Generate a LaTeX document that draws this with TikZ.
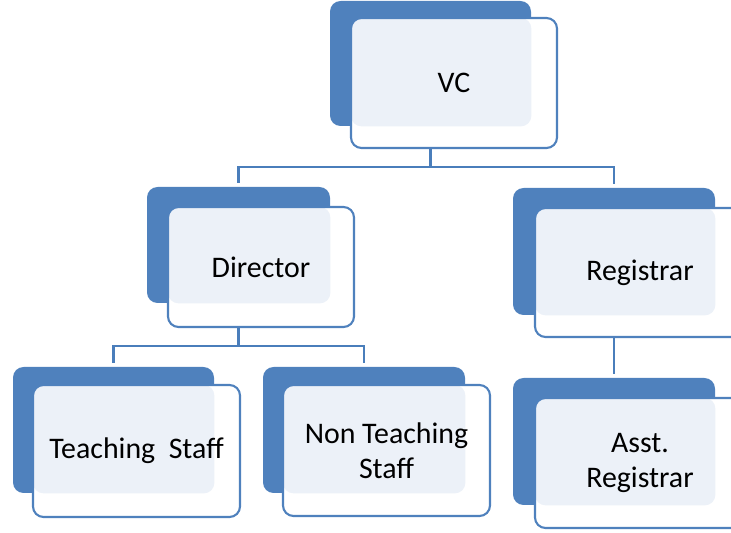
\documentclass[tikz,border=0pt]{standalone}
\usepackage{fontspec}
\setmainfont{Carlito}
\usetikzlibrary{fit}
\definecolor{boxblue}{HTML}{4F81BD}
\definecolor{paleblue}{HTML}{ECF1F8}
\definecolor{lineblue}{HTML}{4A7EBB}
\begin{document}
\begin{tikzpicture}[x=0.02cm, y=-0.02cm,
  back/.style={fill=boxblue, rounded corners=6pt, inner sep=0pt},
  front/.style={draw=boxblue, line width=1.2pt, fill=white, rounded corners=6pt, inner sep=0pt},
  paleover/.style={path picture={\fill[paleblue, rounded corners=6pt]
    (path picture bounding box.north west) rectangle (#1.south east);}},
  boxtext/.style={align=center, inner sep=0pt, font=\fontsize{17}{20}\selectfont},
  link/.style={draw=lineblue, line width=1.6pt, shorten >=2pt}]
\clip (0,0) rectangle (731,533);
% top
\node[back, fit={(330,1) (531,126)}] (vcB) {};
\node[front, paleover=vcB, fit={(351,18) (557,148)}] (vc) {};
\node[boxtext] (vcT) at (vc.center) {VC};
% second row
\node[back, fit={(147,187) (330,303)}] (dirB) {};
\node[front, paleover=dirB, fit={(168,207) (354,327)}] (dir) {};
\node[boxtext] (dirT) at (dir.center) {Director};
\node[back, fit={(513,188) (715,315)}] (regB) {};
\node[front, paleover=regB, fit={(535,208) (745,337)}] (reg) {};
\node[boxtext] (regT) at (reg.center) {Registrar};
% third row
\node[back, fit={(13,367) (214,493)}] (tsB) {};
\node[front, paleover=tsB, fit={(33,385) (240,517)}] (ts) {};
\node[boxtext] (tsT) at (ts.center) {Teaching~ Staff};
\node[back, fit={(263,367) (465,493)}] (ntsB) {};
\node[front, paleover=ntsB, fit={(283,385) (490,516)}] (nts) {};
\node[boxtext] (ntsT) at (nts.center) {Non Teaching\\Staff};
\node[back, fit={(513,378) (715,505)}] (arB) {};
\node[front, paleover=arB, fit={(535,398) (745,528)}] (ar) {};
\node[boxtext] (arT) at (ar.center) {Asst.\\Registrar};
% links
\path[link] (vcB.center |- vc.south) -- ++(0,18) -| (dirB.north);
\path[link] (vcB.center |- vc.south) -- ++(0,18) -| (regB.north);
\path[link] (dirB.center |- dir.south) -- ++(0,18) -| (tsB.north);
\path[link] (dirB.center |- dir.south) -- ++(0,18) -| (ntsB.north);
\path[link] (regB.center |- reg.south) -- (arB.north);
\end{tikzpicture}
\end{document}
